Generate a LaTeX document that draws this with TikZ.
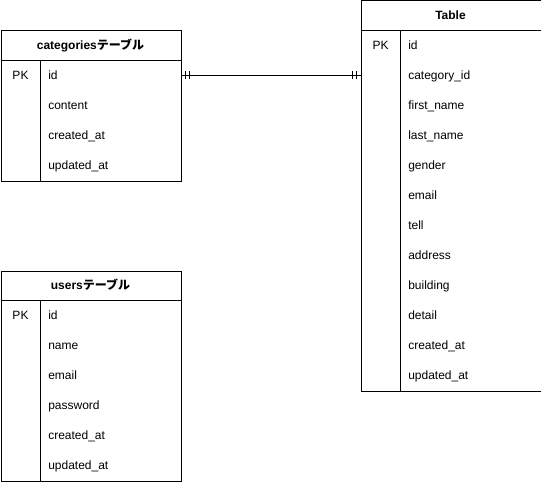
\documentclass[tikz,border=0pt]{standalone}
\usepackage{fontspec}
\setmainfont{Liberation Sans}
\newfontfamily\cjk{Noto Sans CJK JP}
\newcommand\jpn[1]{{\cjk #1}}
\begin{document}
\begin{tikzpicture}[x=0.75pt,y=-0.75pt,
  every node/.style={font=\fontsize{9}{11}\selectfont, inner sep=0pt},
  box/.style={draw, line width=0.75pt, anchor=north west, minimum width=135pt},
  head/.style={anchor=base, font=\fontsize{9}{11}\selectfont\bfseries},
  field/.style={anchor=base west},
  key/.style={anchor=base},
  rule/.style={line width=0.75pt}]
\useasboundingbox (0,0) rectangle (541,481);

% categories table
\node[box, minimum height=112.5pt] (cat) at (0.5,30.5) {};
\node[head] (cathead) at (90.5,49.5) {categories\jpn{テーブル}};
\draw[rule] (0.5,60.5) -- (180.5,60.5);
\draw[rule] (40.5,60.5) -- (40.5,180.5);
\node[key] (catpk) at (20.5,79.5) {PK};
\foreach \t [count=\i] in {id,content,created\_at,updated\_at}
  \node[field] (cat-\i) at (48,49.5+30*\i) {\t};

% users table
\node[box, minimum height=157.5pt] (usr) at (0.5,270.5) {};
\node[head] (usrhead) at (90.5,289.5) {users\jpn{テーブル}};
\draw[rule] (0.5,300.5) -- (180.5,300.5);
\draw[rule] (40.5,300.5) -- (40.5,480.5);
\node[key] (usrpk) at (20.5,319.5) {PK};
\foreach \t [count=\i] in {id,name,email,password,created\_at,updated\_at}
  \node[field] (usr-\i) at (48,289.5+30*\i) {\t};

% main table
\node[box, minimum height=292.5pt] (tbl) at (360.5,0.5) {};
\node[head] (tblhead) at (450.5,19.5) {Table};
\draw[rule] (360.5,30.5) -- (540.5,30.5);
\draw[rule] (400.5,30.5) -- (400.5,390.5);
\node[key] (tblpk) at (380.5,49.5) {PK};
\foreach \t [count=\i] in {id,category\_id,first\_name,last\_name,gender,email,tell,address,building,detail,created\_at,updated\_at}
  \node[field] (tbl-\i) at (408,19.5+30*\i) {\t};

% one-to-one relation between categories.id and Table.category_id
\coordinate (relA) at (cat.east |- 0,75.5);
\coordinate (relB) at (tbl.west |- 0,75.5);
\draw[rule] (relA) -- (relB);
\foreach \d in {3,6}{
  \draw[rule] ([xshift=\d pt]relA) ++(0,-4) -- ++(0,8);
  \draw[rule] ([xshift=-\d pt]relB) ++(0,-4) -- ++(0,8);
}
\end{tikzpicture}
\end{document}
